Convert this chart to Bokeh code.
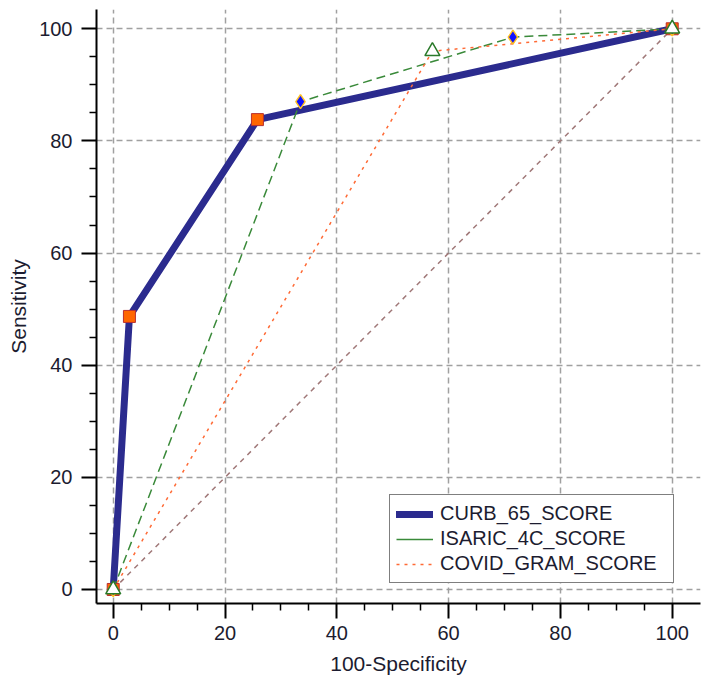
from bokeh.plotting import figure
from bokeh.models import FixedTicker, Legend, LegendItem, ColumnDataSource, Range1d
from bokeh.embed import file_html
from bokeh.resources import INLINE

# ROC curve data (100-Specificity, Sensitivity)
curb_x = [0, 2.9, 25.8, 100]
curb_y = [0, 48.7, 83.8, 100]
isaric_x = [0, 33.5, 71.5, 100]
isaric_y = [0, 87.0, 98.5, 100]
covid_x = [0, 57.1, 100]
covid_y = [0, 96.0, 100]
diag_x = [0, 100]
diag_y = [0, 100]
major_ticks = [0, 20, 40, 60, 80, 100]
minor_ticks = [5, 10, 15, 25, 30, 35, 45, 50, 55, 65, 70, 75, 85, 90, 95]
series_names = ["CURB_65_SCORE", "ISARIC_4C_SCORE", "COVID_GRAM_SCORE"]

FONT = "Liberation Sans"
TXT = "#1c1c30"

p = figure(width=701, height=680,
           x_range=Range1d(-2.99, 105.06), y_range=Range1d(-2.5, 103.44),
           min_border_left=96, min_border_right=1, min_border_top=9, min_border_bottom=77,
           output_backend="svg", toolbar_location=None)
p.outline_line_color = None
p.background_fill_color = "white"

for ax in (p.xaxis[0], p.yaxis[0]):
    ax.ticker = FixedTicker(ticks=major_ticks, minor_ticks=minor_ticks)
    ax.axis_line_width = 2
    ax.axis_line_color = "black"
    ax.major_tick_in = 0
    ax.major_tick_out = 15
    ax.major_tick_line_width = 2
    ax.minor_tick_in = 0
    ax.minor_tick_out = 7
    ax.minor_tick_line_width = 1.5
    ax.major_label_text_font = FONT
    ax.major_label_text_font_size = "20px"
    ax.major_label_text_color = TXT
    ax.axis_label_text_font = FONT
    ax.axis_label_text_font_size = "21px"
    ax.axis_label_text_font_style = "normal"
    ax.axis_label_text_color = TXT

p.xaxis.axis_label = "100-Specificity"
p.yaxis.axis_label = "Sensitivity"
p.xaxis.major_label_standoff = 7
p.xaxis.axis_label_standoff = 9
p.yaxis.major_label_standoff = 9
p.yaxis.axis_label_standoff = 6

for g in (p.xgrid[0], p.ygrid[0]):
    g.grid_line_color = "#a0a0a0"
    g.grid_line_dash = "6 4"
    g.grid_line_width = 1.5

src_curb = ColumnDataSource(dict(x=curb_x, y=curb_y))
src_isaric = ColumnDataSource(dict(x=isaric_x, y=isaric_y))
src_covid = ColumnDataSource(dict(x=covid_x, y=covid_y))
src_diag = ColumnDataSource(dict(x=diag_x, y=diag_y))

NAVY = "#2b2b8e"
GREEN = "#3a8a3a"
ORANGE = "#ff6a35"

r_curb = p.line("x", "y", source=src_curb, line_color=NAVY, line_width=7,
                line_join="round", line_cap="round")
r_isaric = p.line("x", "y", source=src_isaric, line_color=GREEN, line_width=1.5,
                  line_dash="9 5")
r_covid = p.line("x", "y", source=src_covid, line_color=ORANGE, line_width=1.5,
                 line_dash="3 5")
p.line("x", "y", source=src_diag, line_color="#a07878", line_width=1.5, line_dash="5 5")

# legend-only solid green sample (kept outside the visible ranges)
r_isaric_leg = p.line(x=[-60, -50], y=[-60, -50], line_color=GREEN, line_width=1.5)

p.scatter("x", "y", source=src_curb, marker="square", size=12,
          fill_color="#ff6600", line_color="#b83030", line_width=1)
p.scatter("x", "y", source=src_isaric, marker="diamond", size=14,
          fill_color="#1010ff", line_color="#ffc020", line_width=1.5)
p.scatter("x", "y", source=src_covid, marker="triangle", size=15,
          fill_color="white", line_color="#2a7a2a", line_width=1.5)

legend = Legend(items=[
    LegendItem(label=series_names[0], renderers=[r_curb]),
    LegendItem(label=series_names[1], renderers=[r_isaric_leg]),
    LegendItem(label=series_names[2], renderers=[r_covid]),
], location=(293, 20))
legend.padding = 6
legend.spacing = 0
legend.margin = 0
legend.glyph_width = 37
legend.glyph_height = 20
legend.label_height = 25
legend.label_width = 227
legend.label_standoff = 7
legend.label_text_font = FONT
legend.label_text_font_size = "20px"
legend.label_text_color = TXT
legend.border_line_color = "black"
legend.border_line_width = 1.5
legend.background_fill_color = "white"
legend.background_fill_alpha = 1
p.add_layout(legend)

open("out.html", "w").write(file_html(p, INLINE))
